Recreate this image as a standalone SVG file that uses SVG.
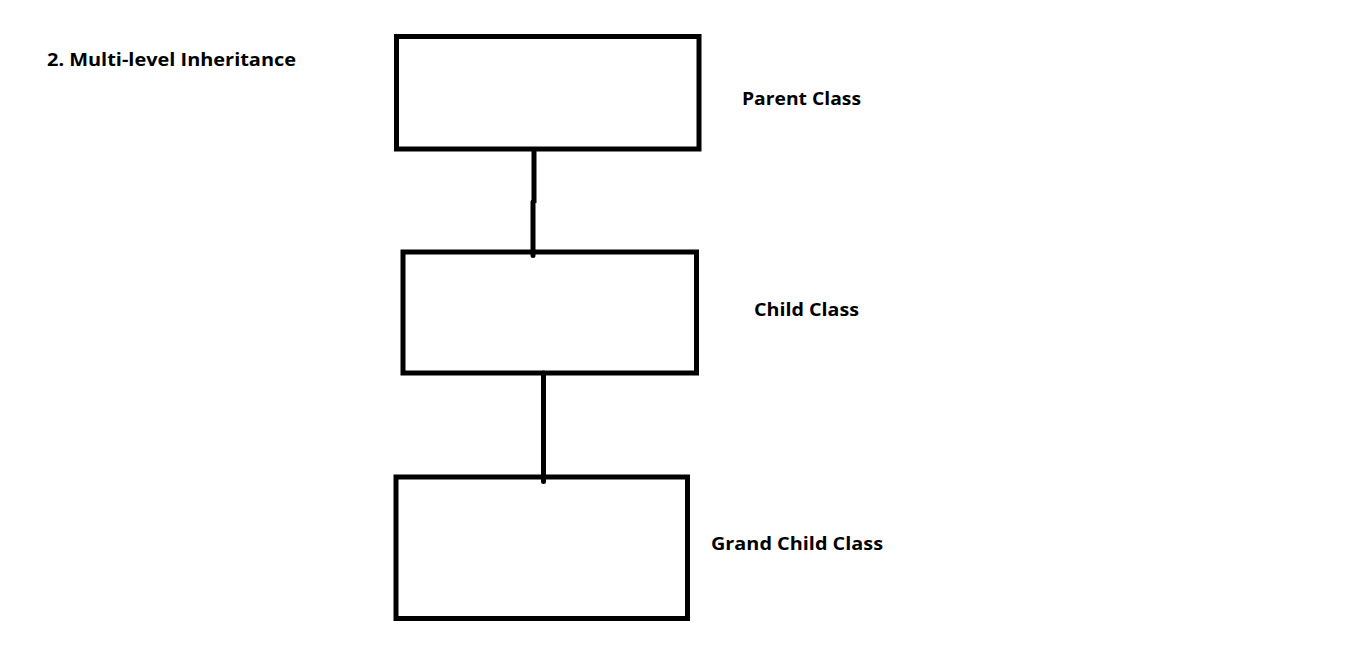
<svg xmlns="http://www.w3.org/2000/svg" width="1354" height="669" viewBox="0 0 1354 669">
<style>
.box{fill:none;stroke:#000;stroke-width:5}
.conn{stroke:#000;stroke-width:5;fill:none}
.lbl{font-family:"Open Sans","Noto Sans","Liberation Sans",sans-serif;font-weight:bold;font-size:18.5px;fill:#000}
</style>
<rect width="1354" height="669" fill="#fff"/>
<text class="lbl" x="47" y="66" textLength="249" lengthAdjust="spacingAndGlyphs">2. Multi-level Inheritance</text>
<g id="parent">
<rect class="box" x="396.5" y="36.5" width="302.5" height="112.5"/>
<text class="lbl" x="742" y="105" textLength="119" lengthAdjust="spacingAndGlyphs">Parent Class</text>
</g>
<g id="child">
<rect class="box" x="403" y="252" width="293.5" height="121"/>
<text class="lbl" x="754" y="316" textLength="105" lengthAdjust="spacingAndGlyphs">Child Class</text>
</g>
<g id="grandchild">
<rect class="box" x="396" y="477" width="291.5" height="141.5"/>
<text class="lbl" x="711" y="550" textLength="172" lengthAdjust="spacingAndGlyphs">Grand Child Class</text>
</g>
<g id="connectors">
<path class="conn" d="M534,149 V203"/>
<path class="conn" d="M533,202 V255.5" stroke-linecap="round"/>
<path class="conn" d="M543.5,373 V481.5" stroke-linecap="round"/>
</g>
</svg>
